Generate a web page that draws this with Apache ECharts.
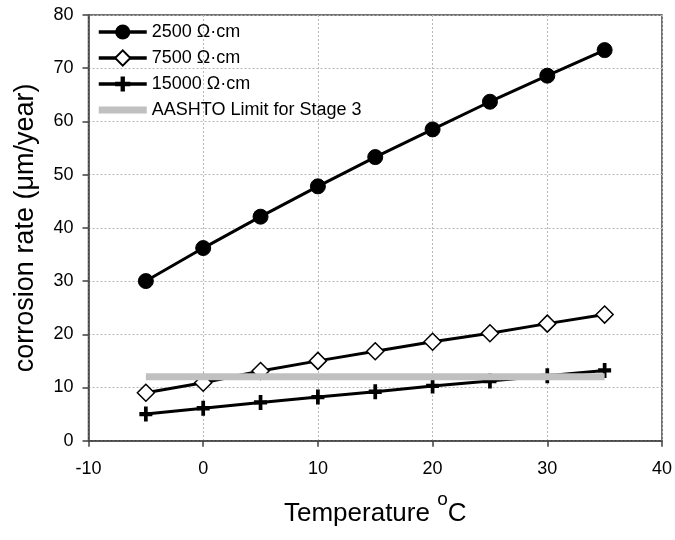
<!DOCTYPE html>
<html>
<head>
<meta charset="utf-8">
<script src="https://cdn.jsdelivr.net/npm/echarts@6/dist/echarts.min.js"></script>
<style>html,body{margin:0;padding:0;background:#fff}#c{width:675px;height:540px}</style>
</head>
<body>
<div id="c"></div>
<script>
var temps = [-5, 0, 5, 10, 15, 20, 25, 30, 35];
var rate2500 = [30.0, 36.2, 42.1, 47.8, 53.3, 58.5, 63.7, 68.6, 73.4];
var rate7500 = [9.0, 10.9, 13.1, 15.0, 16.8, 18.6, 20.2, 22.0, 23.7];
var rate15000 = [5.0, 6.1, 7.2, 8.2, 9.2, 10.3, 11.2, 12.2, 13.2];
var aashtoX = [-5, 35];
var aashtoLimit = 12;
var seriesNames = ['2500 \u03A9\u00B7cm', '7500 \u03A9\u00B7cm', '15000 \u03A9\u00B7cm', 'AASHTO Limit for Stage 3'];

function pairs(xs, ys) { return xs.map(function (x, i) { return [x, ys[i]]; }); }

var FONT = '"Liberation Sans", Arial, sans-serif';
var plus = 'path://M5,0 H9 V5 H14 V9 H9 V14 H5 V9 H0 V5 H5 Z';

var chart = echarts.init(document.getElementById('c'));
chart.setOption({
  animation: false,
  textStyle: { fontFamily: FONT, color: '#000' },
  grid: { left: 88.5, right: 11.5, top: 15, bottom: 99.3, show: true, borderColor: '#444', borderWidth: 1.5, backgroundColor: 'transparent' },
  legend: {
    orient: 'vertical', left: 92, top: 18,
    itemWidth: 48, itemHeight: 19, itemGap: 8,
    textStyle: { fontFamily: FONT, fontSize: 18, color: '#000' },
    lineStyle: { width: 3.5, color: '#000' },
    data: [
      { name: seriesNames[0] },
      { name: seriesNames[1] },
      { name: seriesNames[2] },
      { name: seriesNames[3], icon: 'path://M0,0 H48 V7 H0 Z', itemStyle: { color: '#c0c0c0', borderWidth: 0 } }
    ]
  },
  xAxis: {
    type: 'value', min: -10, max: 40, interval: 10,
    name: '{a|Temperature }{s|o}{a|C}', nameLocation: 'middle', nameGap: 50,
    nameTextStyle: {
      rich: {
        a: { fontFamily: FONT, fontSize: 26, color: '#000', lineHeight: 36, verticalAlign: 'bottom' },
        s: { fontFamily: FONT, fontSize: 19, color: '#000', lineHeight: 36, verticalAlign: 'top' }
      }
    },
    axisLine: { onZero: false, lineStyle: { color: '#404040', width: 1.5 } },
    axisTick: { show: true, inside: false, length: 6, lineStyle: { color: '#404040', width: 1.5 } },
    axisLabel: { fontSize: 18, color: '#000', margin: 19, fontFamily: FONT },
    splitLine: { show: true, lineStyle: { color: '#b8b8b8', width: 1, type: [2, 2] } }
  },
  yAxis: {
    type: 'value', min: 0, max: 80, interval: 10,
    name: 'corrosion rate (\u03BCm/year)', nameLocation: 'middle', nameGap: 49,
    nameTextStyle: { fontFamily: FONT, fontSize: 27, color: '#000' },
    axisLine: { show: true, onZero: false, lineStyle: { color: '#404040', width: 1.5 } },
    axisTick: { show: true, inside: false, length: 6, lineStyle: { color: '#404040', width: 1.5 } },
    axisLabel: { fontSize: 18, color: '#000', margin: 15, fontFamily: FONT },
    splitLine: { show: true, lineStyle: { color: '#b8b8b8', width: 1, type: [2, 2] } }
  },
  series: [
    {
      name: seriesNames[0], type: 'line', data: pairs(temps, rate2500),
      symbol: 'circle', symbolSize: 15,
      lineStyle: { color: '#000', width: 3 }, itemStyle: { color: '#000', borderColor: '#000' }
    },
    {
      name: seriesNames[1], type: 'line', data: pairs(temps, rate7500),
      symbol: 'diamond', symbolSize: 17,
      lineStyle: { color: '#000', width: 3 }, itemStyle: { color: '#fff', borderColor: '#000', borderWidth: 1.5 }
    },
    {
      name: seriesNames[2], type: 'line', data: pairs(temps, rate15000),
      symbol: plus, symbolSize: [13, 15],
      lineStyle: { color: '#000', width: 3 }, itemStyle: { color: '#000', borderWidth: 0 }
    },
    {
      name: seriesNames[3], type: 'line', data: pairs(aashtoX, [aashtoLimit, aashtoLimit]),
      symbol: 'none', z: 5,
      lineStyle: { color: '#c0c0c0', width: 7 }, itemStyle: { color: '#c0c0c0' }
    }
  ]
});
</script>
</body>
</html>
